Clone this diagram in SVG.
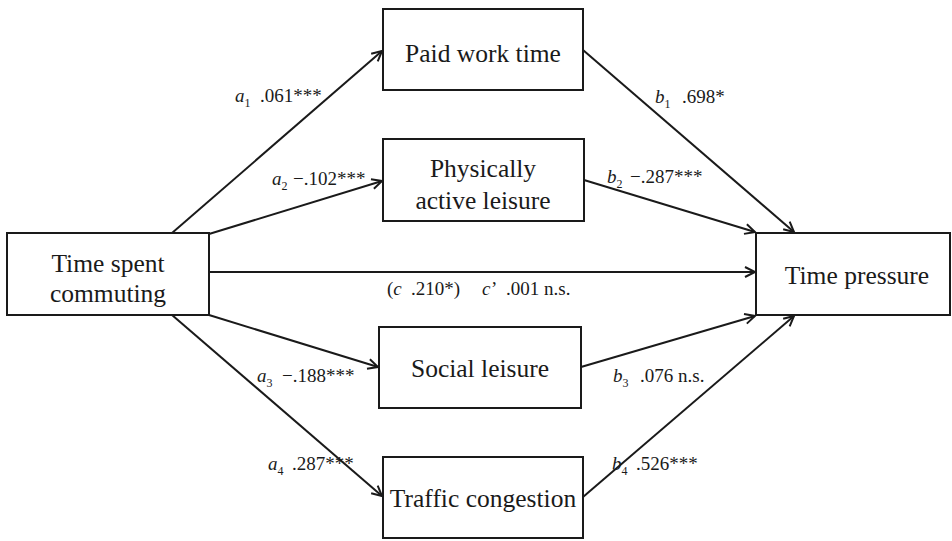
<svg xmlns="http://www.w3.org/2000/svg" width="952" height="541" viewBox="0 0 952 541">
<style>
.box{fill:#fff;stroke:#1a1a1a;stroke-width:2}
.bt{font-family:"Liberation Serif","Times New Roman",serif;font-size:25.5px;fill:#1a1a1a;text-anchor:middle}
.lb{font-family:"Liberation Serif","Times New Roman",serif;font-size:19px;fill:#1a1a1a}
.it{font-style:italic}
.sub{font-size:12px}
.cn{stroke:#1a1a1a;stroke-width:2;fill:none;marker-end:url(#ar)}
</style>
<defs>
<marker id="ar" markerWidth="14" markerHeight="14" refX="11" refY="6" orient="auto" markerUnits="userSpaceOnUse">
<path d="M1,1 L11,6 L1,11" fill="none" stroke="#1a1a1a" stroke-width="2"/>
</marker>
</defs>
<rect width="952" height="541" fill="#fff"/>
<g id="connectors">
<line class="cn" x1="172" y1="233" x2="382" y2="51"/>
<line class="cn" x1="209" y1="234" x2="382" y2="181"/>
<line class="cn" x1="209" y1="272" x2="755" y2="272"/>
<line class="cn" x1="209" y1="315" x2="378" y2="367"/>
<line class="cn" x1="172" y1="315" x2="382" y2="496"/>
<line class="cn" x1="583" y1="50" x2="794" y2="232"/>
<line class="cn" x1="584" y1="180" x2="755" y2="232"/>
<line class="cn" x1="581" y1="367" x2="755" y2="316"/>
<line class="cn" x1="583" y1="497" x2="794" y2="316"/>
</g>
<g id="n-commute">
<rect class="box" x="7" y="233" width="202" height="82"/>
<text class="bt" x="108" y="272">Time spent</text>
<text class="bt" x="108" y="302">commuting</text>
</g>
<g id="n-paid">
<rect class="box" x="383" y="9" width="200" height="81"/>
<text class="bt" x="483" y="62">Paid work time</text>
</g>
<g id="n-phys">
<rect class="box" x="383" y="139" width="201" height="82"/>
<text class="bt" x="483" y="177">Physically</text>
<text class="bt" x="483" y="209">active leisure</text>
</g>
<g id="n-social">
<rect class="box" x="379" y="327" width="202" height="81"/>
<text class="bt" x="480" y="377">Social leisure</text>
</g>
<g id="n-traffic">
<rect class="box" x="383" y="457" width="200" height="81"/>
<text class="bt" x="483" y="507">Traffic congestion</text>
</g>
<g id="n-pressure">
<rect class="box" x="756" y="233" width="194" height="82"/>
<text class="bt" x="857" y="284">Time pressure</text>
</g>
<g id="labels">
<text class="lb" x="235" y="102"><tspan class="it">a</tspan><tspan class="sub" dy="5">1</tspan><tspan dy="-5" x="260">.061***</tspan></text>
<text class="lb" x="272" y="185"><tspan class="it">a</tspan><tspan class="sub" dy="5">2</tspan><tspan dy="-5" x="293">−.102***</tspan></text>
<text class="lb" x="655" y="103"><tspan class="it">b</tspan><tspan class="sub" dy="5">1</tspan><tspan dy="-5" x="682">.698*</tspan></text>
<text class="lb" x="607" y="183"><tspan class="it">b</tspan><tspan class="sub" dy="5">2</tspan><tspan dy="-5" x="630">−.287***</tspan></text>
<text class="lb" x="387" y="295">(<tspan class="it">c</tspan><tspan x="411">.210*)</tspan><tspan class="it" x="482">c</tspan><tspan x="491">’</tspan><tspan x="506">.001 n.s.</tspan></text>
<text class="lb" x="257" y="382"><tspan class="it">a</tspan><tspan class="sub" dy="5">3</tspan><tspan dy="-5" x="282">−.188***</tspan></text>
<text class="lb" x="613" y="382"><tspan class="it">b</tspan><tspan class="sub" dy="5">3</tspan><tspan dy="-5" x="640">.076 n.s.</tspan></text>
<text class="lb" x="268" y="470"><tspan class="it">a</tspan><tspan class="sub" dy="5">4</tspan><tspan dy="-5" x="292">.287***</tspan></text>
<text class="lb" x="612" y="470"><tspan class="it">b</tspan><tspan class="sub" dy="5">4</tspan><tspan dy="-5" x="636">.526***</tspan></text>
</g>
</svg>
